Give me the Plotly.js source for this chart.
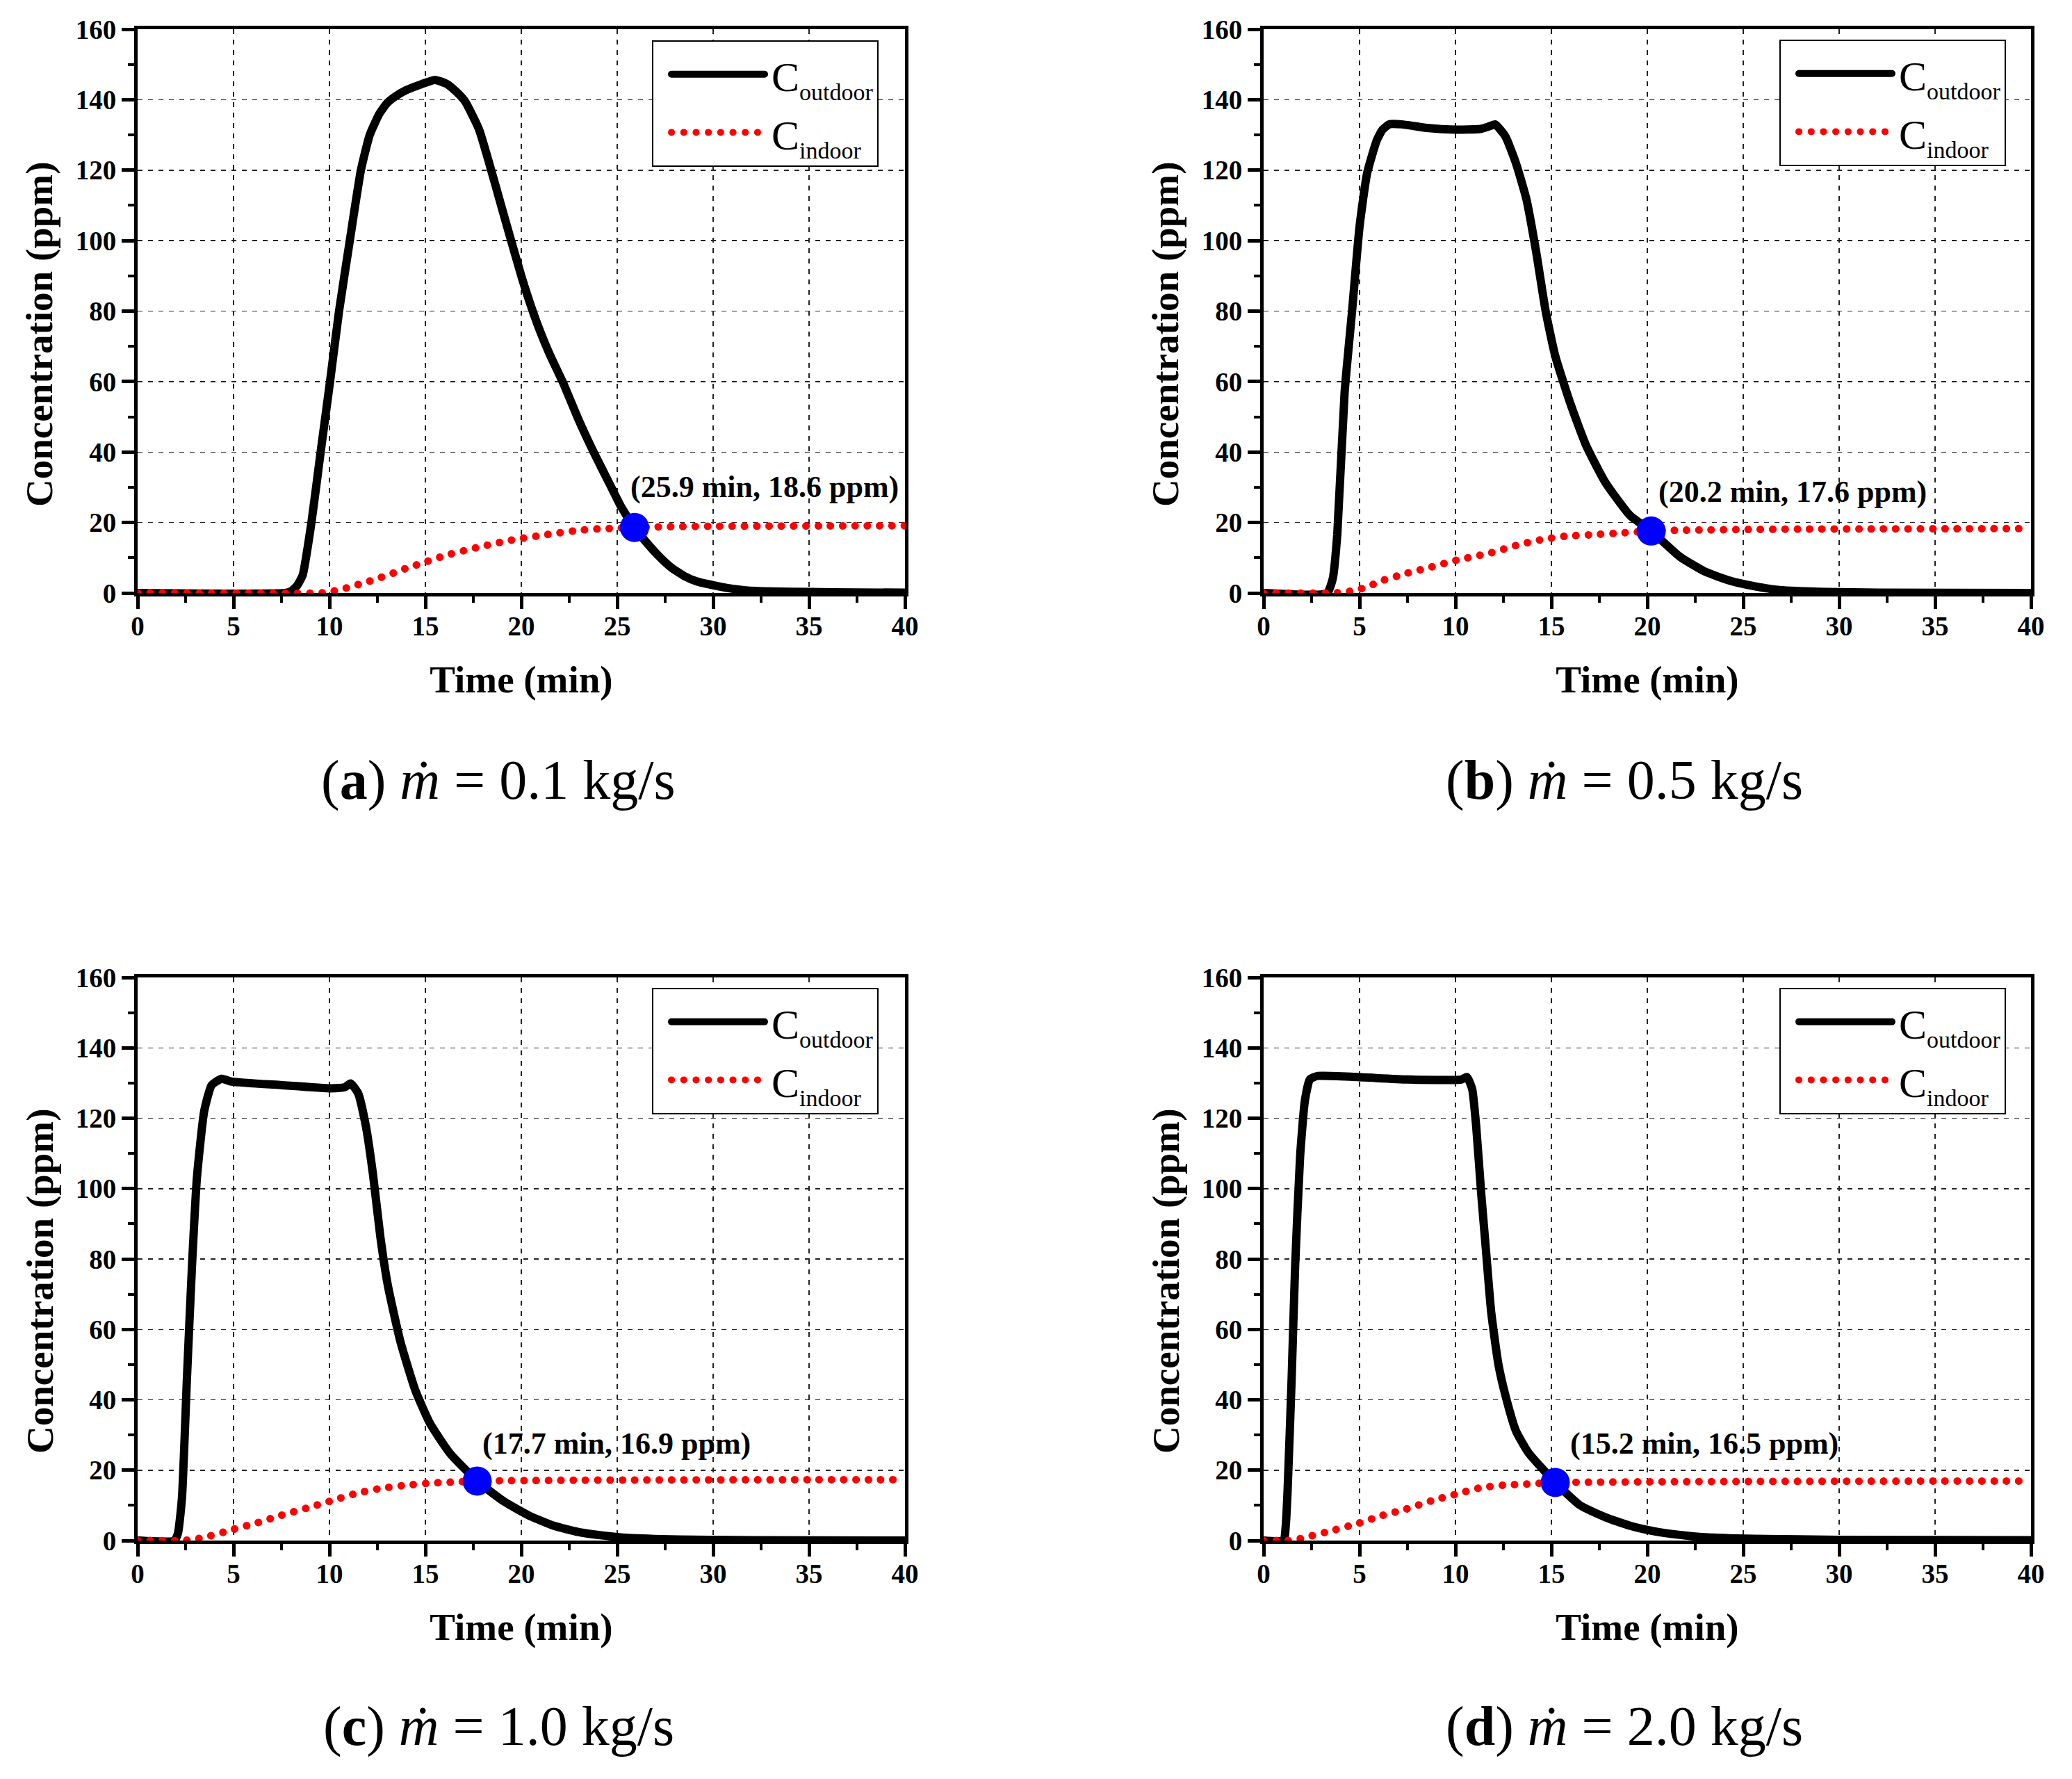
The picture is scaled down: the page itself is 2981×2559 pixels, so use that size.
<!DOCTYPE html>
<html>
<head>
<meta charset="utf-8">
<script src="https://cdn.plot.ly/plotly-3.0.1.min.js"></script>
<style>html,body{margin:0;padding:0;background:#fff;}</style>
</head>
<body>
<div id="chart" style="width:2981px;height:2559px;"></div>
<script>
// ---------- data ----------
const panelLetters = ["a", "b", "c", "d"];
const massFlow = [0.1, 0.5, 1.0, 2.0];

const tOutA = [0, 7.7, 8.0, 8.3, 8.6, 9.06, 9.54, 10.03, 10.5, 11.06, 11.64, 12.1, 12.6, 13.0, 13.4, 14.0, 14.8, 15.5, 16.1, 16.6, 17.07, 17.8, 18.43, 19.0, 19.47, 20.0, 20.5, 21.0, 21.5, 22.15, 23.0, 23.77, 24.6, 25.2, 25.9, 26.5, 27.2, 27.8, 28.5, 29.2, 30.1, 31.0, 31.7, 33.0, 35, 37.5, 40];
const cOutA = [0, 0, 0.5, 2, 5, 20, 40, 60, 80, 100, 120, 130, 136, 139, 140.8, 142.7, 144.4, 145.6, 144.5, 142.3, 139.5, 131.5, 120, 109, 100, 90, 81.5, 74, 67.5, 60, 49, 40, 31, 24.5, 18.6, 14.5, 10.3, 7.3, 4.8, 3.2, 2.1, 1.2, 0.75, 0.45, 0.3, 0.15, 0.1];
const tInA = [0, 9.5, 10.0, 10.5, 11.0, 11.5, 12.0, 12.5, 13.0, 13.5, 14.0, 15.0, 16.0, 17.0, 18.0, 19.0, 20.0, 21.0, 22.0, 23.0, 24.0, 25.0, 25.9, 27.0, 28.0, 30.0, 33.0, 36.0, 40.0];
const cInA = [0, 0, 0.3, 0.9, 1.6, 2.4, 3.2, 4.1, 5.0, 6.0, 7.0, 8.8, 10.6, 12.0, 13.3, 14.5, 15.5, 16.3, 17.1, 17.8, 18.2, 18.4, 18.6, 18.75, 18.85, 18.95, 19.0, 19.05, 19.1];

const tOutB = [0, 3.3, 3.6, 3.84, 4.22, 4.61, 5.0, 5.39, 5.9, 6.2, 6.55, 7.2, 8.5, 10.0, 11.3, 11.7, 12.06, 12.6, 13.15, 13.7, 14.2, 14.7, 15.2, 16.0, 16.8, 17.8, 19.1, 20.2, 21.7, 23.0, 24.3, 25.6, 26.9, 29.4, 32, 40];
const cOutB = [0, 0, 4, 16.7, 56.8, 80, 104, 119, 128.5, 131.5, 133, 133, 132, 131.5, 131.7, 132.3, 133, 129.6, 122, 111.7, 97, 80, 67.3, 53.6, 42, 31.5, 22, 17.6, 10.3, 6.1, 3.5, 1.9, 0.85, 0.3, 0.1, 0];
const tInB = [0, 3.6, 4.3, 5.0, 5.6, 6.17, 7.46, 8.75, 10.04, 11.85, 13.15, 14.44, 15.7, 17.3, 18.8, 20.2, 21.5, 23.0, 25.5, 28.2, 32, 36, 40];
const cInB = [0, 0, 0.3, 1.05, 2.2, 3.5, 5.6, 7.4, 9.3, 11.4, 13.5, 15.1, 16.1, 16.6, 17.1, 17.6, 17.8, 17.9, 18.05, 18.15, 18.2, 18.25, 18.3];

const tOutC = [0, 1.92, 2.1, 2.31, 2.57, 2.83, 3.09, 3.47, 3.86, 4.38, 4.9, 7.5, 10.07, 10.8, 11.1, 11.5, 11.9, 12.27, 12.66, 13.05, 13.7, 14.47, 15.24, 16.28, 17.7, 19.1, 20.4, 21.7, 23.0, 24.3, 25.6, 28.2, 32, 40];
const cOutC = [0, 0, 2, 12, 46, 77.6, 103, 122, 129.4, 131.2, 130.4, 129.4, 128.5, 128.8, 129.9, 127, 117.7, 104, 86, 72.3, 56.5, 42.8, 33.3, 24.8, 16.9, 11.1, 7.1, 4.2, 2.4, 1.4, 0.74, 0.3, 0.1, 0];
const tInC = [0, 2.3, 2.9, 3.6, 5.0, 6.2, 7.5, 8.8, 10.1, 11.4, 12.66, 13.95, 15.2, 16.4, 17.7, 19, 20.4, 23, 25.6, 30, 35, 40];
const cInC = [0, 0, 0.3, 1.05, 3.2, 5.0, 7.2, 9.2, 11.3, 13.4, 14.8, 15.7, 16.3, 16.6, 16.9, 17.0, 17.05, 17.15, 17.2, 17.25, 17.3, 17.3];

const tOutD = [0, 1.04, 1.15, 1.25, 1.46, 1.64, 1.9, 2.15, 2.41, 2.8, 4.87, 7.46, 10.3, 10.6, 10.87, 11.08, 11.34, 11.6, 11.86, 12.24, 12.63, 13.15, 13.8, 15.2, 16.5, 17.8, 19.1, 20.4, 21.7, 23.0, 25.6, 30, 40];
const cOutD = [0, 0, 4, 14.3, 46, 77.6, 109, 125, 131, 132, 131.7, 131, 131, 131.7, 128.3, 117.7, 98.7, 81.8, 65, 50, 40.7, 31.2, 25.0, 16.5, 10, 6.65, 4.2, 2.6, 1.6, 0.95, 0.5, 0.2, 0.1];
const tInD = [0, 1.25, 1.7, 2.28, 3.58, 5.0, 6.16, 7.46, 8.75, 10.04, 11.3, 12.63, 13.7, 15.2, 17.5, 20.4, 25.6, 30, 35, 40];
const cInD = [0, 0, 0.3, 1.05, 2.85, 5.0, 7.1, 9.0, 11.3, 13.2, 15.0, 15.8, 16.05, 16.5, 16.6, 16.7, 16.8, 16.85, 16.9, 16.9];

const crossT = [25.9, 20.2, 17.7, 15.2];
const crossC = [18.6, 17.6, 16.9, 16.5];
const labelT = [25.6, 20.5, 17.9, 15.9];
const labelC = [30.0, 28.8, 27.5, 27.5];

const xTicks = [0, 5, 10, 15, 20, 25, 30, 35, 40];
const yTicks = [0, 20, 40, 60, 80, 100, 120, 140, 160];

const outdoorT = [tOutA, tOutB, tOutC, tOutD];
const outdoorC = [cOutA, cOutB, cOutC, cOutD];
const indoorT = [tInA, tInB, tInC, tInD];
const indoorC = [cInA, cInB, cInC, cInD];

// ---------- layout geometry ----------
const W = 2981, H = 2559;
const xDom = [[198 / W, 1302 / W], [1818 / W, 2922 / W]];
const yDom = [[1 - 853 / H, 1 - 42 / H], [1 - 2216 / H, 1 - 1406 / H]];
const legPos = [[938 / W, 1 - 58 / H], [2560 / W, 1 - 57 / H], [938 / W, 1 - 1421 / H], [2560 / W, 1 - 1421 / H]];
const capPos = [[717 / W, 1 - 1123 / H], [2337 / W, 1 - 1123 / H], [717 / W, 1 - 2483 / H], [2337 / W, 1 - 2483 / H]];
const yTitleX = [57 / W, 1677 / W];
const yTitleY = [1 - 481 / H, 1 - 1843 / H];

const SERIF = "Liberation Serif, Times New Roman, serif";

const traces = [];
const layout = {
  width: W, height: H,
  margin: {l: 0, r: 0, t: 0, b: 0},
  paper_bgcolor: "white", plot_bgcolor: "white",
  annotations: [],
  font: {family: SERIF, color: "black"}
};

function legendName(sub) {
  return "<span style='font-size:60px'>C</span><sub><span style='font-size:34px'>" + sub + "</span></sub>";
}

for (let i = 0; i < 4; i++) {
  const sfx = i === 0 ? "" : String(i + 1);
  const xa = "x" + sfx, ya = "y" + sfx;
  const leg = i === 0 ? "legend" : "legend" + (i + 1);
  traces.push({
    type: "scatter", mode: "lines", x: outdoorT[i], y: outdoorC[i],
    xaxis: xa, yaxis: ya, legend: leg,
    name: legendName("outdoor"),
    line: {color: "black", width: 12, shape: "spline", smoothing: 0.5}
  });
  traces.push({
    type: "scatter", mode: "lines", x: indoorT[i], y: indoorC[i],
    xaxis: xa, yaxis: ya, legend: leg,
    name: legendName("indoor"),
    line: {color: "#ff0000", width: 11, dash: "10px,7.6px", shape: "spline", smoothing: 0.5}
  });
  traces.push({
    type: "scatter", mode: "markers", x: [crossT[i]], y: [crossC[i]],
    xaxis: xa, yaxis: ya, showlegend: false,
    marker: {color: "#0000ff", size: 42, line: {width: 0}}
  });

  const col = i % 2, row = Math.floor(i / 2);
  const common = {
    showline: true, linewidth: 5, linecolor: "black", mirror: true,
    ticks: "outside", ticklen: 18, tickwidth: 5, tickcolor: "black",
    showgrid: true, gridcolor: "#222", gridwidth: 1.5, griddash: "7px,8px",
    zeroline: false, fixedrange: true,
    tickfont: {family: SERIF, size: 39, weight: "bold", color: "black"}
  };
  layout["xaxis" + sfx] = Object.assign({}, common, {
    domain: xDom[col], anchor: ya, range: [0, 40],
    tickmode: "array", tickvals: xTicks, ticktext: xTicks.map(String),
    ticklabelstandoff: -9,
    minor: {ticks: "outside", ticklen: 9, tickwidth: 4, tickcolor: "black", dtick: 2.5, showgrid: false},
    title: {text: "Time (min)", font: {family: SERIF, size: 55, weight: "bold", color: "black"}, standoff: 38}
  });
  layout["yaxis" + sfx] = Object.assign({}, common, {
    domain: yDom[row], anchor: xa, range: [0, 160],
    tickmode: "array", tickvals: yTicks, ticktext: yTicks.map(String),
    minor: {ticks: "outside", ticklen: 9, tickwidth: 4, tickcolor: "black", dtick: 10, showgrid: false}
  });
  layout[leg] = {
    x: legPos[i][0], y: legPos[i][1], xanchor: "left", yanchor: "top",
    xref: "paper", yref: "paper",
    bgcolor: "white", bordercolor: "black", borderwidth: 2,
    font: {family: SERIF, size: 62, color: "black"},
    itemwidth: 160, tracegroupgap: 0
  };
  layout.annotations.push({
    xref: "paper", yref: "paper", x: yTitleX[col], y: yTitleY[row],
    xanchor: "center", yanchor: "middle", textangle: -90, showarrow: false,
    text: "Concentration (ppm)",
    font: {family: SERIF, size: 55, weight: "bold", color: "black"}
  });
  layout.annotations.push({
    xref: xa, yref: ya, x: labelT[i], y: labelC[i],
    xanchor: "left", yanchor: "middle", showarrow: false,
    text: "(" + crossT[i].toFixed(1) + " min, " + crossC[i].toFixed(1) + " ppm)",
    font: {family: SERIF, size: 44, weight: "bold", color: "black"}
  });
  layout.annotations.push({
    xref: "paper", yref: "paper", x: capPos[i][0], y: capPos[i][1],
    xanchor: "center", yanchor: "middle", showarrow: false,
    text: "(<b>" + panelLetters[i] + "</b>) <i>ṁ</i> = " + massFlow[i].toFixed(1) + " kg/s",
    font: {family: SERIF, size: 80, color: "black"}
  });
}

Plotly.newPlot("chart", traces, layout, {staticPlot: true, displayModeBar: false}).then(function () {
  document.querySelectorAll(".legendlines path").forEach(function (p) {
    p.setAttribute("d", "M26,0h134");
  });
  document.querySelectorAll("path.js-line, .legendlines path").forEach(function (p) {
    p.style.strokeLinejoin = "round";
    p.style.strokeLinecap = "round";
    const s = (p.style.stroke || "").replace(/\s/g, "");
    if (s === "rgb(255,0,0)" || s === "#ff0000") {
      p.style.strokeDasharray = "0.1px,17.6px";
    }
  });
});
</script>
</body>
</html>
